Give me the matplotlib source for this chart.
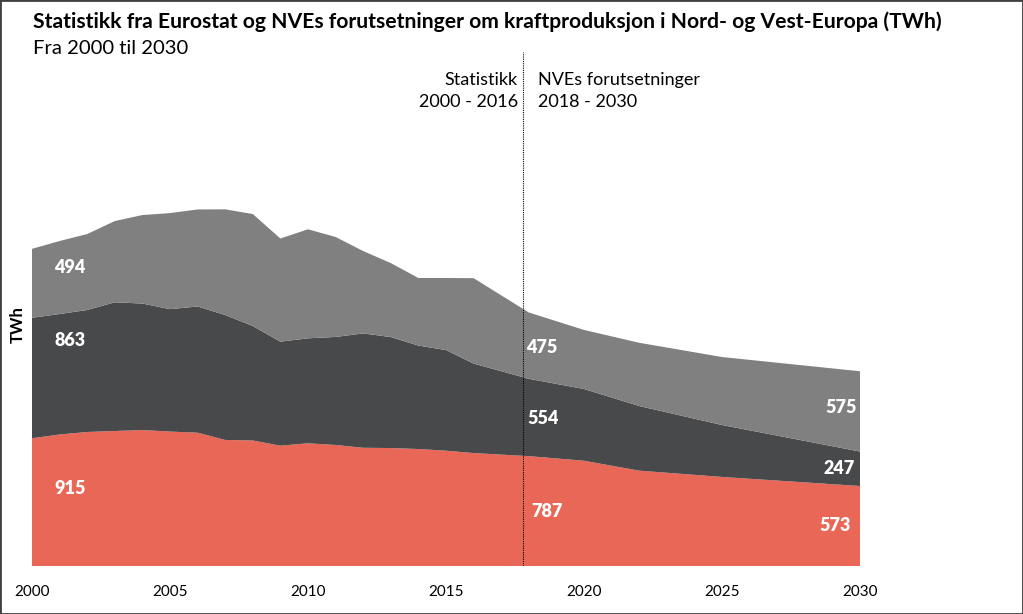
import matplotlib
matplotlib.use("Agg")
import matplotlib.pyplot as plt
from matplotlib.patches import Rectangle

plt.rcParams["font.family"] = ["Lato", "DejaVu Sans"]

# kraftproduksjon (TWh), statistikk 2000-2016 og NVEs forutsetninger 2018-2030
years = [2000, 2001, 2002, 2003, 2004, 2005, 2006, 2007, 2008, 2009, 2010,
         2011, 2012, 2013, 2014, 2015, 2016, 2018, 2020, 2022, 2025, 2030]
red = [915, 942, 960, 967, 974, 963, 955, 903, 899, 862, 879,
       867, 847, 845, 838, 826, 809, 787, 754, 683, 638, 573]
dark = [863, 863, 874, 922, 906, 877, 904, 895, 820, 745, 752,
        774, 819, 795, 741, 721, 641, 554, 514, 463, 372, 247]
gray = [494, 523, 544, 582, 634, 688, 695, 757, 802, 739, 781,
        716, 590, 530, 484, 516, 612, 475, 423, 453, 487, 575]

xticks = [2000, 2005, 2010, 2015, 2020, 2025, 2030]
split_year = 2017.8

# verdietiketter: (tekst, x, y, justering)
value_labels = [
    ("494", 2000.8, 2135, "left"),
    ("863", 2000.8, 1612, "left"),
    ("915", 2000.8, 552, "left"),
    ("475", 2017.9, 1562, "left"),
    ("554", 2017.95, 1060, "left"),
    ("787", 2018.1, 387, "left"),
    ("575", 2029.9, 1132, "right"),
    ("247", 2029.8, 695, "right"),
    ("573", 2029.65, 287, "right"),
]

c_red = "#E96756"
c_dark = "#48494B"
c_gray = "#808080"

fig = plt.figure(figsize=(10.23, 6.14), dpi=100)
ax = fig.add_axes([32 / 1023, 48 / 614, 828 / 1023, 514 / 614])

ax.stackplot(years, red, dark, gray, colors=[c_red, c_dark, c_gray], linewidth=0)

ax.set_xlim(2000, 2030)
ax.set_ylim(0, 3682)
ax.set_xticks(xticks)
ax.set_xticklabels([str(x) for x in xticks], fontsize=11)
ax.tick_params(axis="x", length=0, pad=14)
ax.set_yticks([])
for s in ax.spines.values():
    s.set_visible(False)

ax.axvline(split_year, color="black", linestyle=(0, (1, 1)), linewidth=0.8)

for txt, x, y, ha in value_labels:
    ax.text(x, y, txt, color="white", fontsize=13, fontweight="heavy",
            ha=ha, va="center")

ax.text(split_year - 0.2, 3538, "Statistikk\n2000 - 2016", ha="right", va="top",
        fontsize=13, linespacing=1.45)
ax.text(split_year + 0.55, 3538, "NVEs forutsetninger\n2018 - 2030", ha="left",
        va="top", fontsize=13, linespacing=1.45)

fig.text(18 / 1023, 1 - 325 / 614, "TWh", rotation=90, fontsize=12,
         fontweight="bold", ha="center", va="center")

fig.text(33 / 1023, 1 - 22 / 614,
         "Statistikk fra Eurostat og NVEs forutsetninger om kraftproduksjon i Nord- og Vest-Europa (TWh)",
         fontsize=15.2, fontweight="bold", ha="left", va="center")
fig.text(33 / 1023, 1 - 48 / 614, "Fra 2000 til 2030", fontsize=14.6,
         ha="left", va="center")

fig.patches.append(Rectangle((0, 0), 1, 1, transform=fig.transFigure,
                             fill=False, edgecolor="#404040", linewidth=2))

fig.savefig("out.png", dpi=100)
